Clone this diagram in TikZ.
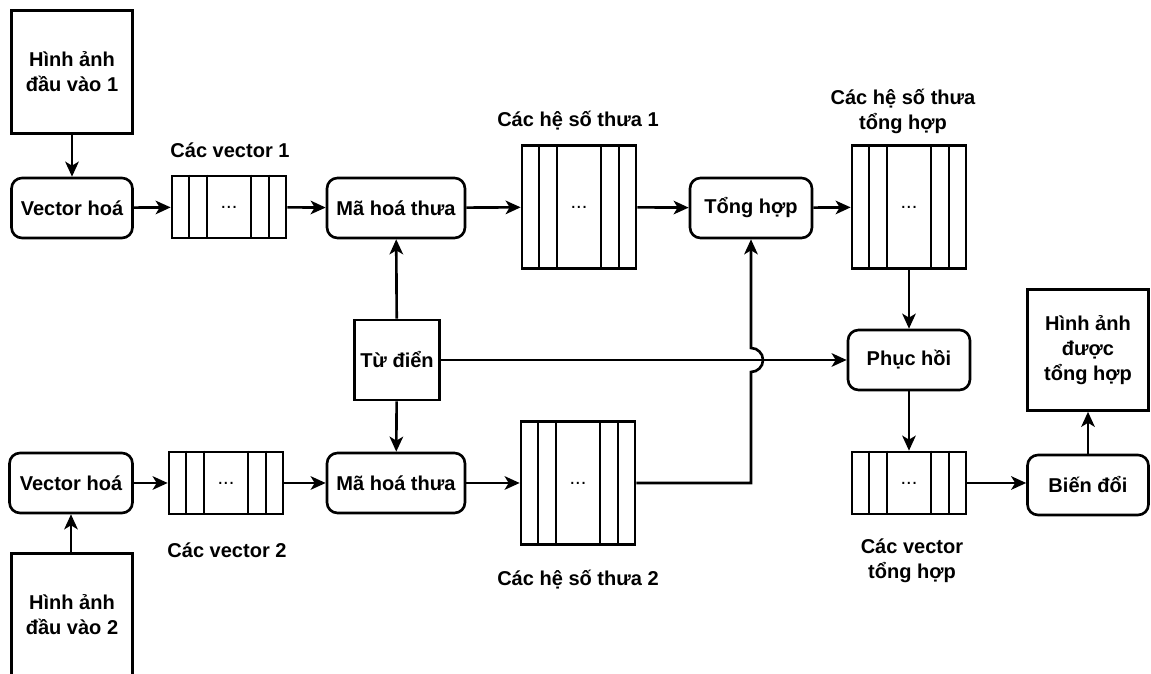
\documentclass[tikz,border=0pt]{standalone}
\usepackage{fontspec}
\setmainfont{Liberation Sans}
\usetikzlibrary{arrows.meta}
\tikzset{
  proc/.style={draw, rounded corners=6pt, minimum width=2.42cm, minimum height=1.2cm, align=center},
  imgbox/.style={draw, minimum width=2.42cm, minimum height=2.46cm, align=center},
  arr/.style={draw, minimum width=2.28cm, minimum height=1.24cm},
  coef/.style={draw, minimum width=2.28cm, minimum height=2.46cm},
  lbl/.style={align=center},
  flow/.style={-{Stealth[length=0.3cm,width=0.27cm,inset=0.08cm]}},
}
\begin{document}
\begin{tikzpicture}[line width=1.5pt, font=\bfseries\fontsize{11.4}{14.2}\selectfont]
  \useasboundingbox (0,0) rectangle (23.02,13.48);
  % top row
  \node[imgbox] (in1) at (1.44,12.04) {Hình ảnh\\đầu vào 1};
  \node[proc] (vh1) at (1.44,9.32) {Vector hoá};
  \node[arr] (v1) at (4.58,9.34) {\mdseries ...};
  \node[lbl] at (4.6,10.48) {Các vector 1};
  \node[proc, minimum width=2.76cm] (mh1) at (7.92,9.32) {Mã hoá thưa};
  \node[coef] (c1) at (11.58,9.34) {\mdseries ...};
  \node[lbl] at (11.56,11.06) {Các hệ số thưa 1};
  \node[proc, minimum width=2.44cm] (th) at (15.02,9.32) {Tổng hợp};
  \node[coef] (ct) at (18.18,9.34) {\mdseries ...};
  \node[lbl] at (18.06,11.26) {Các hệ số thưa\\tổng hợp};
  % middle
  \node[draw, minimum width=1.7cm, minimum height=1.6cm] (td) at (7.94,6.28) {Từ điển};
  \node[proc, minimum width=2.44cm] (ph) at (18.18,6.28) {Phục hồi};
  \node[imgbox, minimum height=2.42cm] (out) at (21.76,6.48) {Hình ảnh\\được\\tổng hợp};
  % bottom row
  \node[proc, minimum width=2.46cm] (vh2) at (1.42,3.82) {Vector hoá};
  \node[imgbox] (in2) at (1.44,1.18) {Hình ảnh\\đầu vào 2};
  \node[arr] (v2) at (4.52,3.82) {\mdseries ...};
  \node[lbl] at (4.54,2.48) {Các vector 2};
  \node[proc, minimum width=2.76cm] (mh2) at (7.92,3.82) {Mã hoá thưa};
  \node[coef] (c2) at (11.56,3.82) {\mdseries ...};
  \node[lbl] at (11.56,1.88) {Các hệ số thưa 2};
  \node[arr] (vt) at (18.18,3.82) {\mdseries ...};
  \node[lbl] at (18.24,2.26) {Các vector\\tổng hợp};
  \node[proc] (bd) at (21.76,3.78) {Biến đổi};
  % strips
  \foreach \s in {v1,v2,c1,c2,ct,vt}
    \foreach \dx in {-0.8,-0.44,0.44,0.8}
      \draw ([xshift=\dx cm]\s.north) -- ([xshift=\dx cm]\s.south);
  % connectors
  \draw[flow] (in1) -- (vh1);
  \draw[flow] (vh1) -- (v1);
  \draw[flow] (v1) -- (mh1);
  \draw[flow] (mh1) -- (c1);
  \draw[flow] (c1) -- (th);
  \draw[flow] (th) -- (ct);
  \draw[flow] (ct) -- (ph);
  \draw[flow] (ph) -- (vt);
  \draw[flow] (vt.east) -- (bd.west |- vt.east);
  \draw[flow] (bd) -- (out);
  \draw[flow] (in2.north -| vh2.south) -- (vh2.south);
  \draw[flow] (vh2) -- (v2);
  \draw[flow] (v2) -- (mh2);
  \draw[flow] (mh2) -- (c2);
  \draw[flow] (td) -- (mh1);
  \draw[flow] (td) -- (mh2);
  \draw[flow] (td) -- (ph);
  \coordinate (hop) at (td.east -| th.south);
  \draw[flow] (c2.east) -| ([yshift=-0.24cm]hop) arc (-90:90:0.24cm) -- (th.south);
\end{tikzpicture}
\end{document}
